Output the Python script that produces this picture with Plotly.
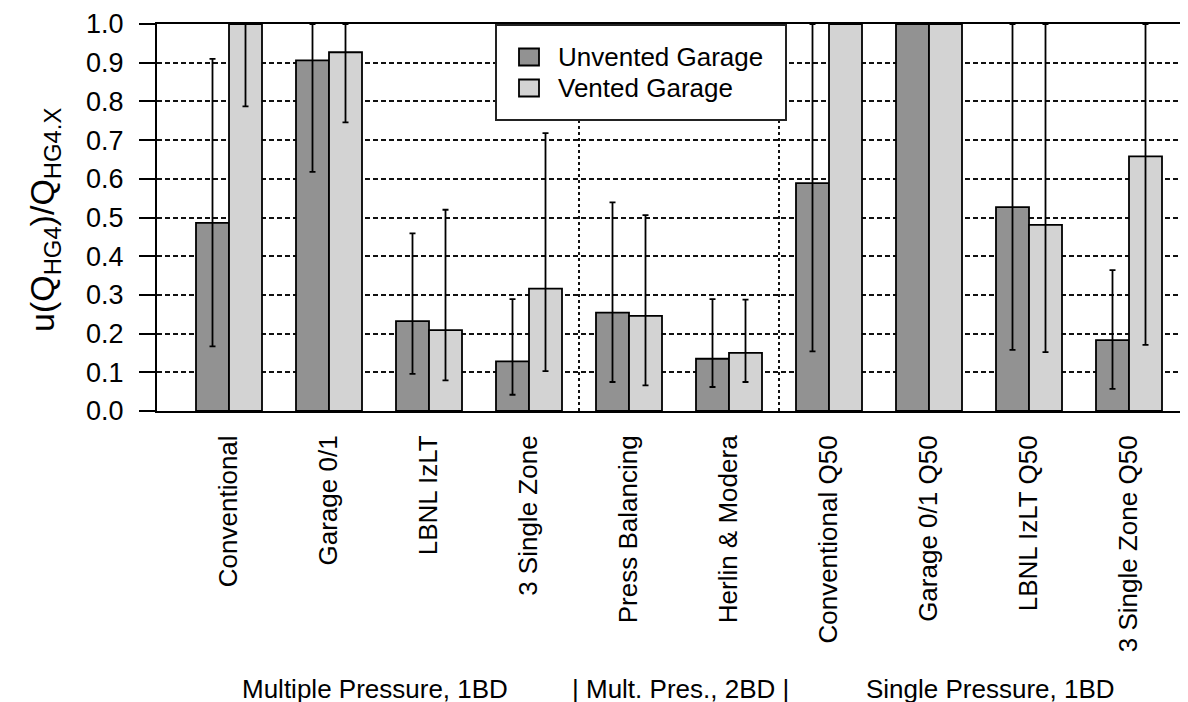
import plotly.graph_objects as go

categories = ["Conventional", "Garage 0/1", "LBNL IzLT", "3 Single Zone",
              "Press Balancing", "Herlin & Modera", "Conventional Q50",
              "Garage 0/1 Q50", "LBNL IzLT Q50", "3 Single Zone Q50"]
unvented = [0.486, 0.906, 0.232, 0.128, 0.254, 0.135, 0.589, 1.0, 0.527, 0.183]
unvented_lo = [0.167, 0.618, 0.096, 0.042, 0.075, 0.062, 0.154, 1.0, 0.158, 0.057]
unvented_hi = [0.910, 1.0, 0.459, 0.289, 0.539, 0.289, 1.0, 1.0, 1.0, 0.364]
vented = [1.0, 0.927, 0.209, 0.316, 0.246, 0.150, 1.0, 1.0, 0.481, 0.658]
vented_lo = [0.787, 0.746, 0.079, 0.103, 0.066, 0.075, 1.0, 1.0, 0.152, 0.171]
vented_hi = [1.0, 1.0, 0.520, 0.718, 0.506, 0.288, 1.0, 1.0, 1.0, 1.0]
series_names = ["Unvented Garage", "Vented Garage"]
group_labels = ["Multiple Pressure, 1BD", "| Mult. Pres., 2BD |", "Single Pressure, 1BD"]
y_ticks = [0.0, 0.1, 0.2, 0.3, 0.4, 0.5, 0.6, 0.7, 0.8, 0.9, 1.0]

DARK = "#929292"
LIGHT = "#d3d3d3"
FONT = "Liberation Sans, Arial, sans-serif"

fig = go.Figure()
for name, vals, lo, hi, col in [(series_names[0], unvented, unvented_lo, unvented_hi, DARK),
                                (series_names[1], vented, vented_lo, vented_hi, LIGHT)]:
    fig.add_trace(go.Bar(
        x=categories, y=vals, name=name, showlegend=False,
        marker=dict(color=col, line=dict(color="black", width=1.8)),
        error_y=dict(type="data", symmetric=False,
                     array=[h - v for h, v in zip(hi, vals)],
                     arrayminus=[v - l for v, l in zip(vals, lo)],
                     color="black", thickness=1.8, width=3),
    ))

L, T, B = 149, 16, 403
W = 1188 - L
H = B - T
def px(x):
    return (x - L) / W
def py(y):
    return (B - y) / H

shapes = []
for xs in [3.5, 5.5]:
    shapes.append(dict(type="line", xref="x", yref="paper", x0=xs, x1=xs, y0=0, y1=1,
                       line=dict(color="#111111", width=2, dash="3px,3px")))
shapes.append(dict(type="rect", xref="paper", yref="paper",
                   x0=px(488), x1=px(778), y0=py(112), y1=py(17),
                   fillcolor="white", line=dict(color="#222222", width=2)))
annotations = []
for i, (name, col) in enumerate(zip(series_names, [DARK, LIGHT])):
    cy = 49 + 31 * i
    shapes.append(dict(type="rect", xref="paper", yref="paper",
                       x0=px(511), x1=px(531), y0=py(cy + 8.5), y1=py(cy - 8.5),
                       fillcolor=col, line=dict(color="black", width=1.8)))
    annotations.append(dict(text=name, xref="paper", yref="paper", x=px(548), y=py(cy),
                            xanchor="left", yanchor="middle", showarrow=False,
                            font=dict(size=26, color="black", family=FONT)))

for lab, cx in zip(group_labels, [367, 672, 982]):
    annotations.append(dict(text=lab, xref="paper", yref="paper", x=px(cx), y=py(681),
                            xanchor="center", yanchor="middle", showarrow=False,
                            font=dict(size=26, color="black", family=FONT)))

annotations.append(dict(text="u(Q<sub>HG4</sub>)/Q<sub>HG4.X</sub>", xref="paper", yref="paper",
                        x=px(36), y=py(212), textangle=-90, xanchor="center", yanchor="middle",
                        showarrow=False, font=dict(size=34, color="black", family=FONT)))

fig.update_layout(
    width=1188, height=702,
    margin=dict(l=L, r=0, t=T, b=702 - B),
    paper_bgcolor="white", plot_bgcolor="white",
    barmode="group", bargap=0.34, bargroupgap=0,
    font=dict(family=FONT, color="black"),
    shapes=shapes, annotations=annotations,
    showlegend=False,
)
fig.update_xaxes(
    type="category", range=[-0.72, 9.67],
    showline=True, mirror=True, linecolor="black", linewidth=2,
    showgrid=False, ticks="", tickangle=-90, ticklabelstandoff=12,
    tickfont=dict(size=26, color="black", family=FONT),
)
fig.update_yaxes(
    range=[0, 1], tickvals=y_ticks, ticktext=[f"{v:.1f}" for v in y_ticks],
    showline=True, linecolor="black", linewidth=2,
    ticks="outside", ticklen=16, tickwidth=2, tickcolor="black", ticklabelstandoff=10,
    showgrid=True, gridcolor="#111111", gridwidth=2, griddash="5px,3px",
    zeroline=False,
    tickfont=dict(size=27, color="black", family=FONT),
)

fig.write_html("out.html")
